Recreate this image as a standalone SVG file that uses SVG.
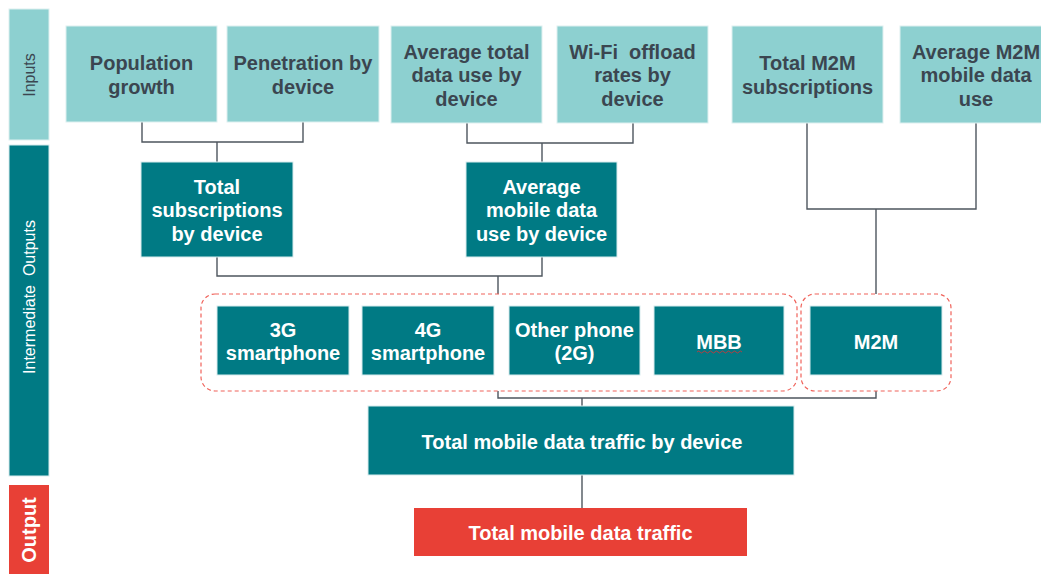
<svg xmlns="http://www.w3.org/2000/svg" width="1041" height="574" viewBox="0 0 1041 574">
<style>
.lt{fill:#8DD0D0;stroke:#DDF0F0;stroke-width:1}
.dk{fill:#007A84;stroke:#D8ECEE;stroke-width:1}
.rd{fill:#E84036}
.t{font-family:"Liberation Sans",Arial,sans-serif;font-weight:bold;font-size:20px;text-anchor:middle}
.td{fill:#3B4650}
.tw{fill:#FFFFFF}
.side{font-family:"Liberation Sans",Arial,sans-serif;font-size:16px;text-anchor:middle}
.con{fill:none;stroke:#4E565E;stroke-width:1.4}
.grp{fill:none;stroke:#F0625A;stroke-width:1.2;stroke-dasharray:4 3}
</style>
<rect width="1041" height="574" fill="#FFFFFF"/>
<g id="band-inputs">
<rect x="9" y="9" width="40" height="131" class="lt"/>
<text class="side" fill="#3B4650" font-size="17" transform="translate(35,75) rotate(-90)">Inputs</text>
</g>
<g id="band-intermediate">
<rect x="9" y="145" width="40" height="331" class="dk"/>
<text class="side" fill="#FFFFFF" transform="translate(35,297) rotate(-90)" xml:space="preserve">Intermediate  Outputs</text>
</g>
<g id="band-output">
<rect x="9" y="485" width="40" height="89" class="rd"/>
<text class="t tw" transform="translate(36,530) rotate(-90)">Output</text>
</g>
<g id="connectors">
<path class="con" d="M142,122 V142 H303 V122 M217,142 V162"/>
<path class="con" d="M467,122 V143 H633 V122 M542,143 V162"/>
<path class="con" d="M807,122 V209 H976 V122 M876,209 V294"/>
<path class="con" d="M217,257 V276 H542 V257 M498,276 V294"/>
<path class="con" d="M498,391 V398 H876 V391 M582,398 V406"/>
<path class="con" d="M582,475 V508"/>
</g>
<g id="group-devices"><rect x="201" y="294" width="596" height="97" rx="14" class="grp"/></g>
<g id="group-m2m"><rect x="801" y="294" width="150" height="97" rx="14" class="grp"/></g>
<g id="population-growth">
<rect x="66" y="26" width="151" height="96" class="lt"/>
<text class="t td" x="141.5" y="70">Population</text>
<text class="t td" x="141.5" y="94">growth</text>
</g>
<g id="penetration-by-device">
<rect x="227" y="26" width="152" height="96" class="lt"/>
<text class="t td" x="303" y="70">Penetration by</text>
<text class="t td" x="303" y="94">device</text>
</g>
<g id="average-total-data-use">
<rect x="391" y="26" width="151" height="97" class="lt"/>
<text class="t td" x="466.5" y="59">Average total</text>
<text class="t td" x="466.5" y="82">data use by</text>
<text class="t td" x="466.5" y="106">device</text>
</g>
<g id="wifi-offload">
<rect x="557" y="26" width="151" height="97" class="lt"/>
<text class="t td" x="632.5" y="59" xml:space="preserve">Wi-Fi  offload</text>
<text class="t td" x="632.5" y="82">rates by</text>
<text class="t td" x="632.5" y="106">device</text>
</g>
<g id="total-m2m-subscriptions">
<rect x="732" y="26" width="151" height="97" class="lt"/>
<text class="t td" x="807.5" y="70">Total M2M</text>
<text class="t td" x="807.5" y="94">subscriptions</text>
</g>
<g id="average-m2m-data-use">
<rect x="900" y="26" width="152" height="97" class="lt"/>
<text class="t td" x="976" y="59">Average M2M</text>
<text class="t td" x="976" y="82">mobile data</text>
<text class="t td" x="976" y="106">use</text>
</g>
<g id="total-subscriptions">
<rect x="141" y="162" width="152" height="95" class="dk"/>
<text class="t tw" x="217" y="194">Total</text>
<text class="t tw" x="217" y="217">subscriptions</text>
<text class="t tw" x="217" y="241">by device</text>
</g>
<g id="average-mobile-data-use">
<rect x="466" y="162" width="151" height="95" class="dk"/>
<text class="t tw" x="541.5" y="194">Average</text>
<text class="t tw" x="541.5" y="217">mobile data</text>
<text class="t tw" x="541.5" y="241">use by device</text>
</g>
<g id="smartphone-3g">
<rect x="217" y="306" width="132" height="69" class="dk"/>
<text class="t tw" x="283" y="337">3G</text>
<text class="t tw" x="283" y="360">smartphone</text>
</g>
<g id="smartphone-4g">
<rect x="362" y="306" width="132" height="69" class="dk"/>
<text class="t tw" x="428" y="337">4G</text>
<text class="t tw" x="428" y="360">smartphone</text>
</g>
<g id="other-phone">
<rect x="509" y="306" width="131" height="69" class="dk"/>
<text class="t tw" x="574.5" y="337">Other phone</text>
<text class="t tw" x="574.5" y="360">(2G)</text>
</g>
<g id="mbb">
<rect x="654" y="306" width="130" height="69" class="dk"/>
<text class="t tw" x="719" y="349">MBB</text>
<path d="M697,352 q1.5,-2 3,0 t3,0 t3,0 t3,0 t3,0 t3,0 t3,0 t3,0 t3,0 t3,0 t3,0 t3,0 t3,0 t3,0 t3,0" fill="none" stroke="#E03030" stroke-width="0.8"/>
</g>
<g id="m2m">
<rect x="810" y="306" width="132" height="69" class="dk"/>
<text class="t tw" x="876" y="349">M2M</text>
</g>
<g id="total-traffic-by-device">
<rect x="368" y="406" width="426" height="69" class="dk"/>
<text class="t tw" x="582" y="449">Total mobile data traffic by device</text>
</g>
<g id="total-traffic">
<rect x="414" y="508" width="333" height="48" class="rd"/>
<text class="t tw" x="580.5" y="540">Total mobile data traffic</text>
</g>
</svg>
